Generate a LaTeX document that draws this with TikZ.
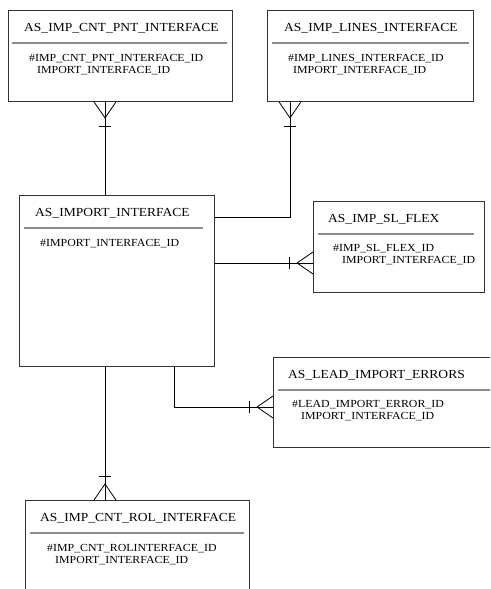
\documentclass[tikz,border=0pt]{standalone}
\usepackage{fontspec}
\setmainfont{Liberation Serif}
\newfontfamily\erfont[FakeStretch=1.1]{Liberation Serif}
\usetikzlibrary{calc}
% crow's foot: at (point on the box edge), [angle of the line leaving the box]
\def\crowfoot(#1)[#2]{\begin{scope}[shift={(#1)},rotate=#2]
	\draw[relline] (0,-11) -- (16,0) -- (0,11);
	\draw[relline] (24,-6) -- (24,6);
\end{scope}}

\begin{document}
\begin{tikzpicture}[x=1pt, y=-1pt,
	entity/.style={draw=black!80, line width=0.9pt, anchor=north west, inner sep=0pt},
	enttitle/.style={anchor=west, inner sep=0pt, font=\erfont\fontsize{12.3}{14}\selectfont},
	entattr/.style={anchor=west, inner sep=0pt, font=\erfont\fontsize{10.8}{12}\selectfont},
	entsep/.style={draw=black!45, line width=1.1pt},
	relline/.style={draw=black, line width=0.8pt}]
			%%%%% START %%%%%
			\path[use as bounding box, clip] (0,0) rectangle (490,589);
			
			% AS_IMP_CNT_PNT_INTERFACE
			\node[entity, minimum width=224pt, minimum height=91pt] (pnt) at (8,10) {};
			\node[enttitle] (pnt-t) at ($(pnt.north west)+(16,18)$) {AS\_IMP\_CNT\_PNT\_INTERFACE};
			\draw[entsep] ($(pnt.north west)+(4,33)$) -- ($(pnt.north east)+(-6,33)$);
			\node[entattr] (pnt-a) at ($(pnt.north west)+(21,49)$) {\#IMP\_CNT\_PNT\_INTERFACE\_ID};
			\node[entattr] (pnt-b) at ($(pnt.north west)+(29,61)$) {IMPORT\_INTERFACE\_ID};
			
			% AS_IMP_LINES_INTERFACE
			\node[entity, minimum width=206pt, minimum height=91pt] (lin) at (267,10) {};
			\node[enttitle] (lin-t) at ($(lin.north west)+(17,18)$) {AS\_IMP\_LINES\_INTERFACE};
			\draw[entsep] ($(lin.north west)+(5,33)$) -- ($(lin.north east)+(-5,33)$);
			\node[entattr] (lin-a) at ($(lin.north west)+(21,49)$) {\#IMP\_LINES\_INTERFACE\_ID};
			\node[entattr] (lin-b) at ($(lin.north west)+(26,61)$) {IMPORT\_INTERFACE\_ID};
			
			% AS_IMPORT_INTERFACE
			\node[entity, minimum width=195pt, minimum height=171pt] (imp) at (19,195) {};
			\node[enttitle] (imp-t) at ($(imp.north west)+(16,18)$) {AS\_IMPORT\_INTERFACE};
			\draw[entsep] ($(imp.north west)+(5,33)$) -- ($(imp.north east)+(-12,33)$);
			\node[entattr] (imp-a) at ($(imp.north west)+(21,49)$) {\#IMPORT\_INTERFACE\_ID};
			
			% AS_IMP_SL_FLEX
			\node[entity, minimum width=171pt, minimum height=91pt] (sl) at (313,201) {};
			\node[enttitle] (sl-t) at ($(sl.north west)+(15,18)$) {AS\_IMP\_SL\_FLEX};
			\draw[entsep] ($(sl.north west)+(5,33)$) -- ($(sl.north east)+(-11,33)$);
			\node[entattr] (sl-a) at ($(sl.north west)+(20,48)$) {\#IMP\_SL\_FLEX\_ID};
			\node[entattr] (sl-b) at ($(sl.north west)+(29,60)$) {IMPORT\_INTERFACE\_ID};
			
			% AS_LEAD_IMPORT_ERRORS
			\node[entity, minimum width=230pt, minimum height=90pt] (lead) at (273,357) {};
			\node[enttitle] (lead-t) at ($(lead.north west)+(15,18)$) {AS\_LEAD\_IMPORT\_ERRORS};
			\draw[entsep] ($(lead.north west)+(5,33)$) -- ($(lead.north east)+(0,33)$);
			\node[entattr] (lead-a) at ($(lead.north west)+(19,48)$) {\#LEAD\_IMPORT\_ERROR\_ID};
			\node[entattr] (lead-b) at ($(lead.north west)+(28,60)$) {IMPORT\_INTERFACE\_ID};
			
			% AS_IMP_CNT_ROL_INTERFACE
			\node[entity, minimum width=224pt, minimum height=110pt] (rol) at (25,500) {};
			\node[enttitle] (rol-t) at ($(rol.north west)+(15,18)$) {AS\_IMP\_CNT\_ROL\_INTERFACE};
			\draw[entsep] ($(rol.north west)+(5,33)$) -- ($(rol.north east)+(-6,33)$);
			\node[entattr] (rol-a) at ($(rol.north west)+(22,49)$) {\#IMP\_CNT\_ROLINTERFACE\_ID};
			\node[entattr] (rol-b) at ($(rol.north west)+(30,61)$) {IMPORT\_INTERFACE\_ID};
			
			% relationships
			\coordinate (pnt-r) at ($(pnt.south west)+(97,0)$);
			\draw[relline] (pnt-r) -- (pnt-r |- imp.north);
			\crowfoot(pnt-r)[-90]
			
			\coordinate (lin-r) at ($(lin.south west)+(23,0)$);
			\coordinate (imp-l) at ($(imp.north east)+(0,22)$);
			\draw[relline] (lin-r) |- (imp-l);
			\crowfoot(lin-r)[-90]
			
			\coordinate (imp-s) at ($(imp.north east)+(0,68)$);
			\draw[relline] (imp-s) -- (imp-s -| sl.west);
			\crowfoot(imp-s -| sl.west)[180]
			
			\coordinate (imp-e) at ($(imp.south west)+(155,0)$);
			\coordinate (lead-r) at ($(lead.north west)+(0,50)$);
			\draw[relline] (imp-e) |- (lead-r);
			\crowfoot(lead-r)[180]
			
			\coordinate (imp-r) at ($(imp.south west)+(86,0)$);
			\draw[relline] (imp-r) -- (imp-r |- rol.north);
			\crowfoot(imp-r |- rol.north)[90]
			%%%%% END %%%%%
\end{tikzpicture}
\end{document}
